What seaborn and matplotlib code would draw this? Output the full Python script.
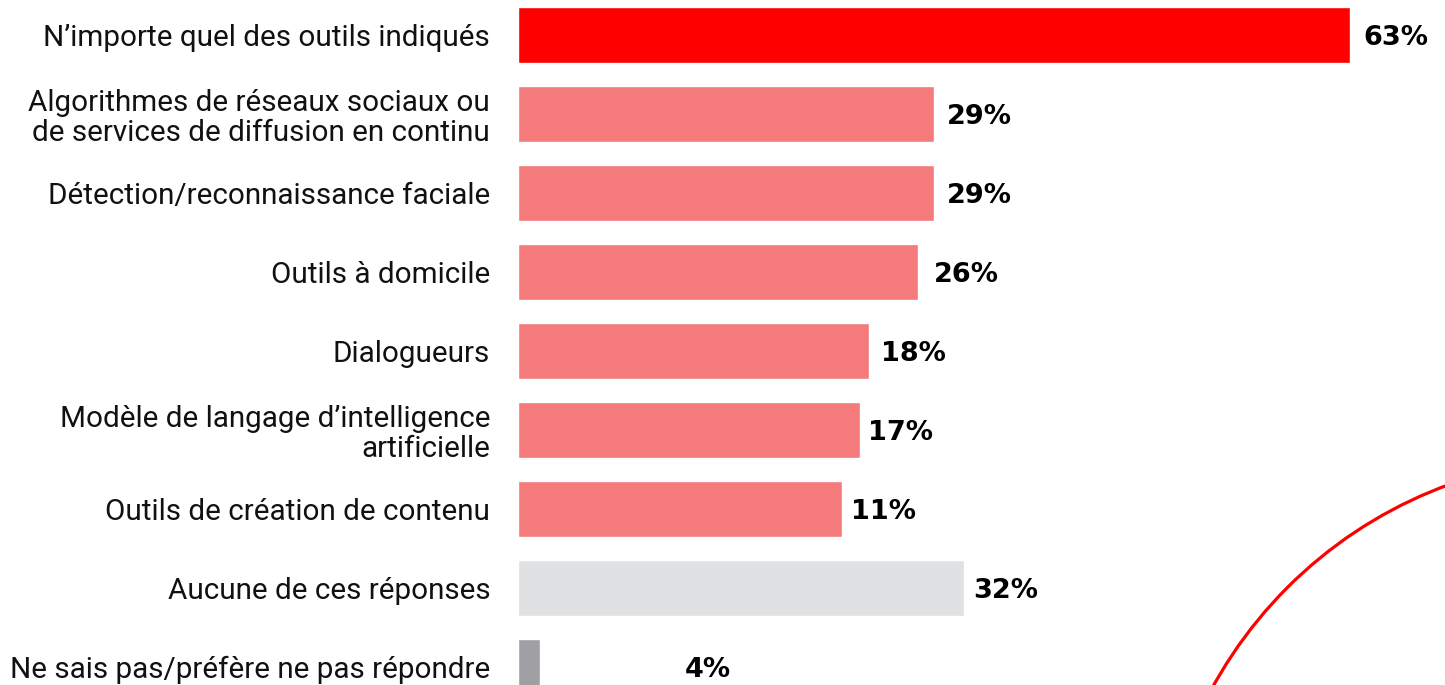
import matplotlib
matplotlib.use("Agg")
import matplotlib.pyplot as plt
from matplotlib.patches import Arc
import seaborn as sns
import pandas as pd

# ---- data ----
categories = [
    "N\u2019importe quel des outils indiqués",
    "Algorithmes de réseaux sociaux ou\nde services de diffusion en continu",
    "Détection/reconnaissance faciale",
    "Outils à domicile",
    "Dialogueurs",
    "Modèle de langage d\u2019intelligence\nartificielle",
    "Outils de création de contenu",
    "Aucune de ces réponses",
    "Ne sais pas/préfère ne pas répondre",
]
values = [63, 29, 29, 26, 18, 17, 11, 32, 4]            # printed percentages
bar_lengths = [63, 31.5, 31.5, 30.3, 26.6, 25.9, 24.5, 33.8, 1.7]  # bar lengths as drawn
label_offsets = [1.0, 1.0, 1.0, 1.2, 0.9, 0.6, 0.7, 0.7, 10.9]
colors = ["#FF0000", "#F47A7B", "#F47A7B", "#F47A7B", "#F47A7B",
          "#F47A7B", "#F47A7B", "#E0E1E3", "#A0A0A4"]

df = pd.DataFrame({"cat": categories, "len": bar_lengths})

sns.set_theme(style="white")
plt.rcParams["font.family"] = ["Roboto", "DejaVu Sans"]

W, H = 1445, 685
fig = plt.figure(figsize=(W / 100, H / 100), dpi=100)
ax = fig.add_axes([518 / W, 0, (W - 518) / W, 1])

sns.barplot(data=df, y="cat", x="len", hue="cat", palette=colors,
            legend=False, width=0.72, ax=ax, saturation=1, orient="h")

step = 79.0
top = 35.0
ax.set_xlim(0, (W - 518) / 13.206)
ax.set_ylim((H - top) / step, -top / step)
ax.set_xlabel("")
ax.set_ylabel("")
ax.set_xticks([])
for s in ax.spines.values():
    s.set_visible(False)
ax.tick_params(axis="y", length=0, pad=20)
ax.set_yticks(range(len(categories)))
ax.set_yticklabels(categories, fontsize=21.3, color="#111111",
                   linespacing=1.1, ha="right")
for t in ax.get_yticklabels():
    t.set_y(t.get_position()[1])

for i, (v, L, off) in enumerate(zip(values, bar_lengths, label_offsets)):
    ax.text(L + off, i + 0.04, f"{v}%", va="center", ha="left",
            fontsize=19.5, fontweight="bold", color="#000000",
            family=["DejaVu Sans"])

# decorative red arc in lower right
cx, cy, r = 1600, 900, 442
arc = Arc((cx / W, 1 - cy / H), 2 * r / W, 2 * r / H, theta1=90, theta2=180,
          transform=fig.transFigure, color="#FF0000", lw=2.3, clip_on=False)
fig.add_artist(arc)

fig.savefig("out.png", dpi=100)
